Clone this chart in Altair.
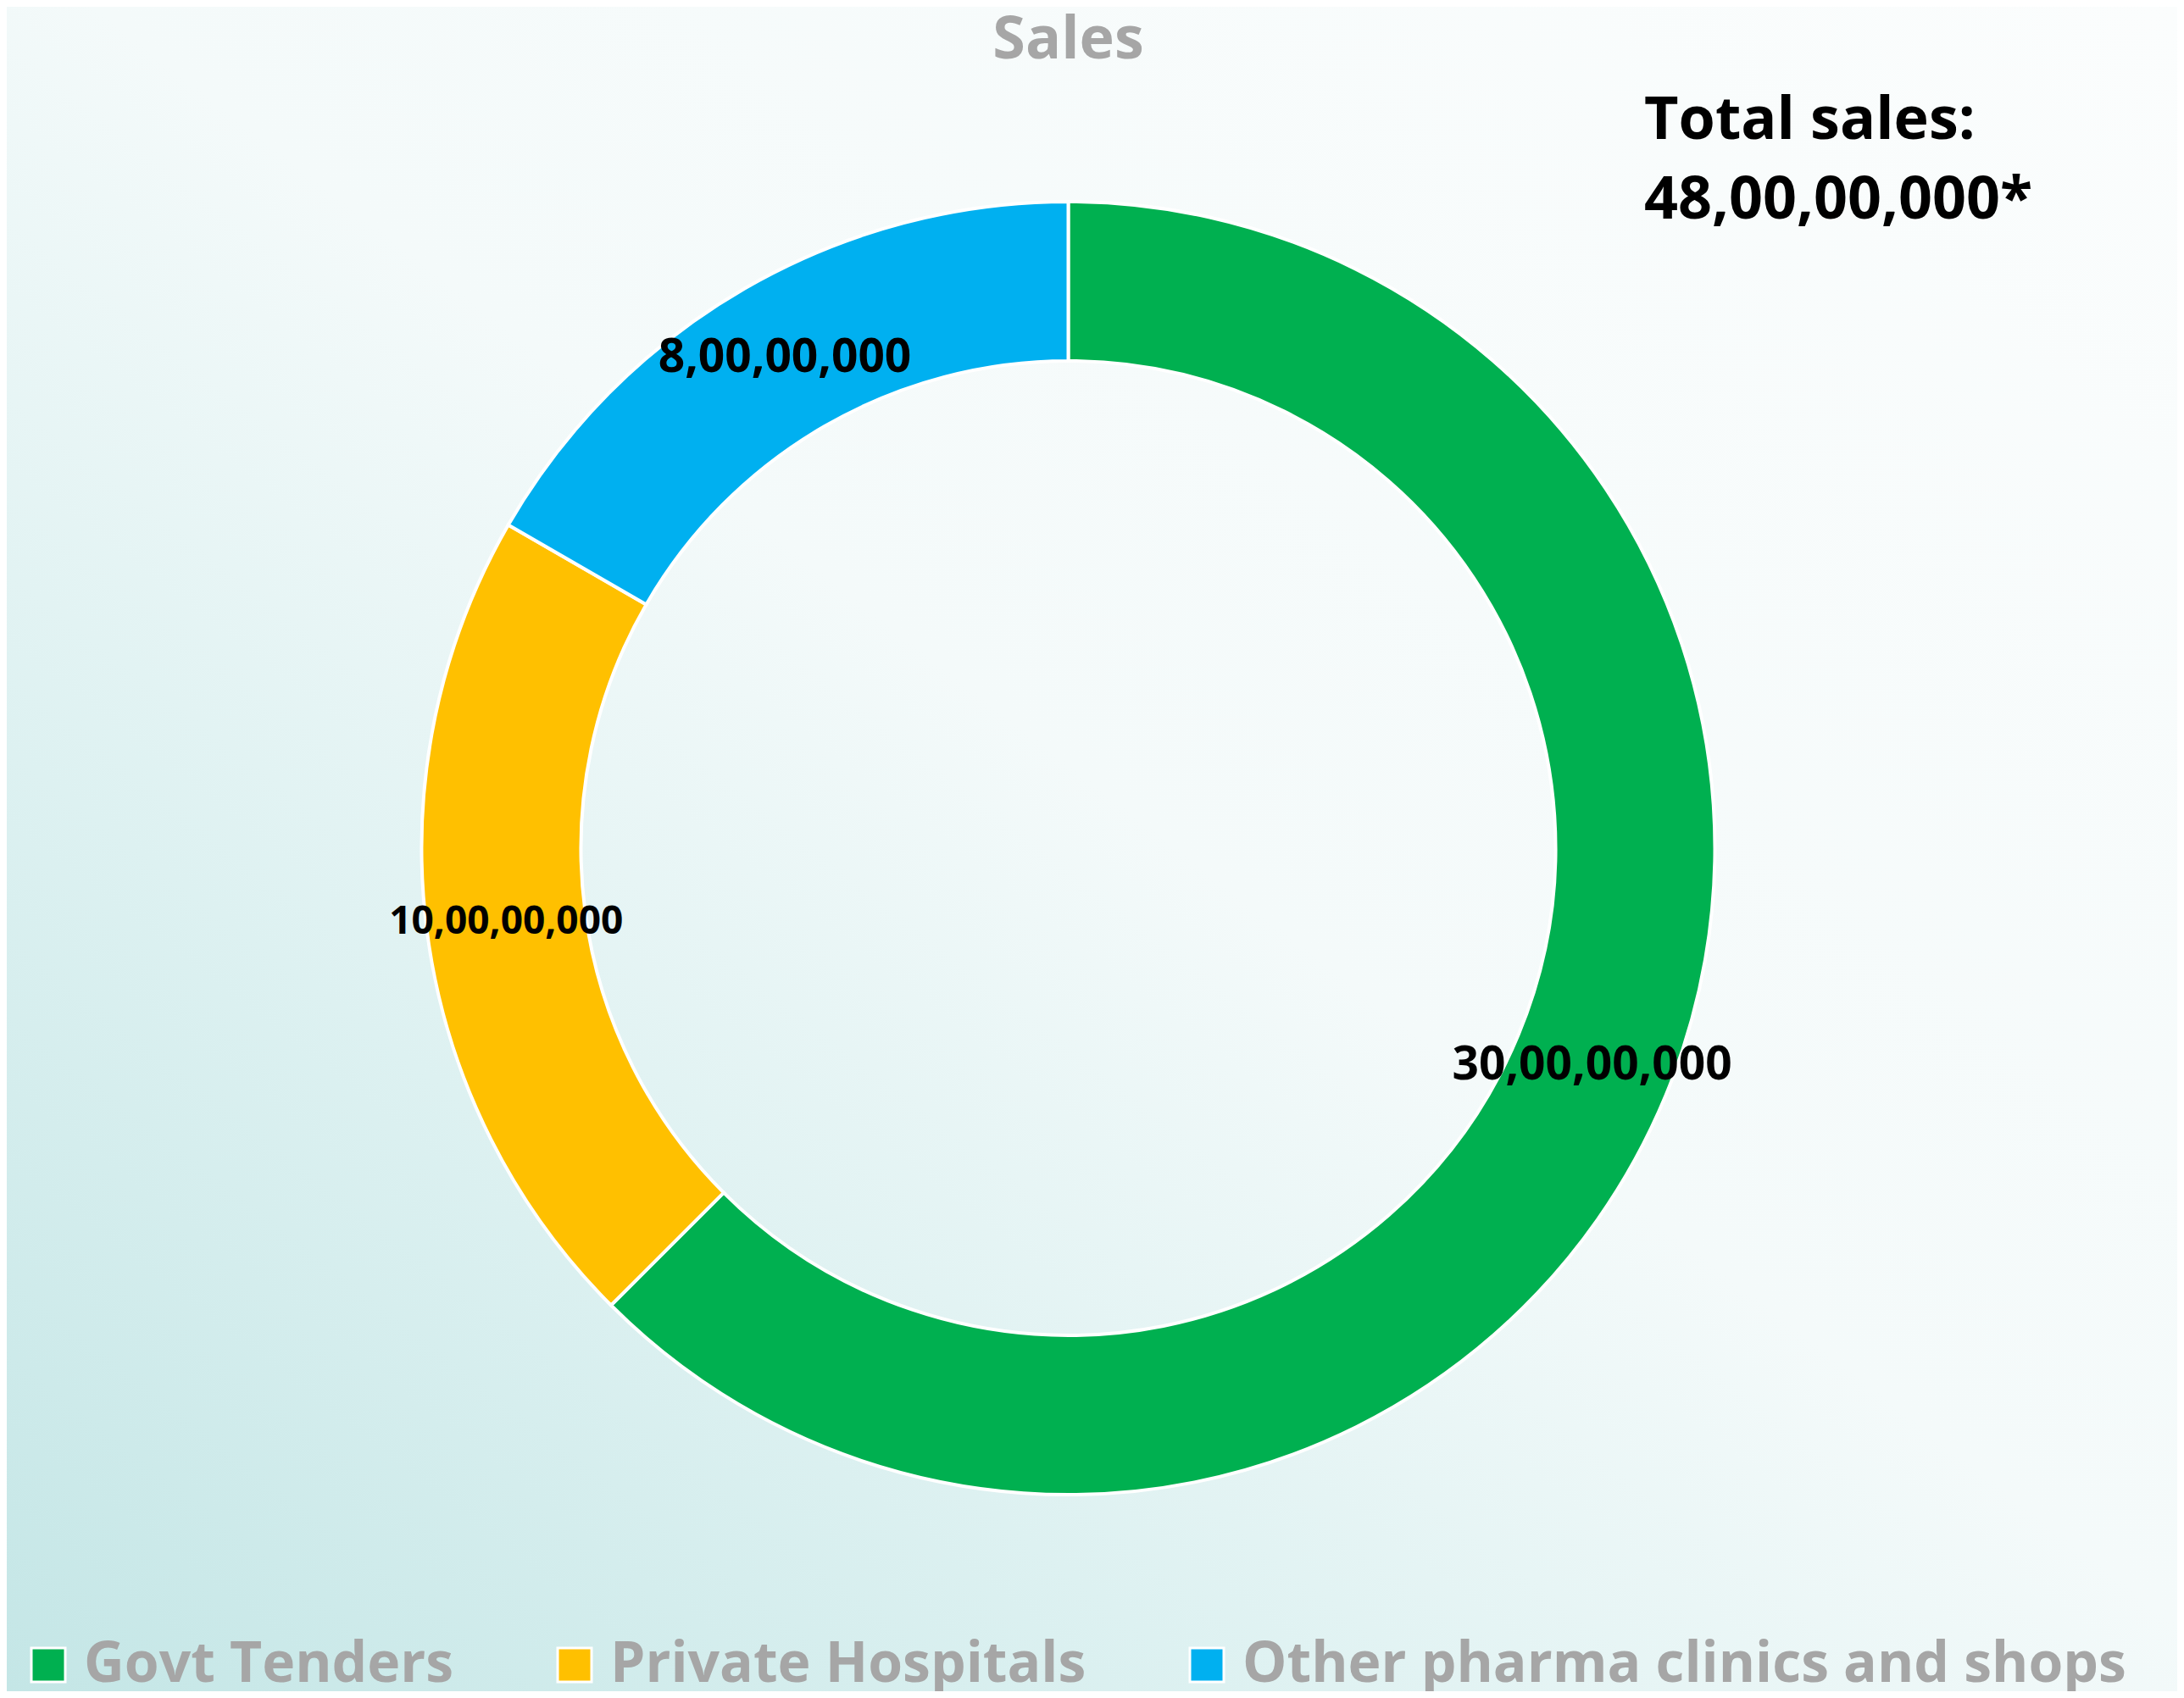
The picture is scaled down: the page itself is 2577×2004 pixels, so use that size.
import altair as alt
import pandas as pd

# ---- data ----
categories = ["Govt Tenders", "Private Hospitals", "Other pharma clinics and shops"]
sales = [300000000, 100000000, 80000000]
colors = ["#00B050", "#FFC000", "#00B0F0"]
chart_title = "Sales"


def inr(n):
    s = str(int(n))
    last3, rest = s[-3:], s[:-3]
    groups = []
    while len(rest) > 2:
        groups.insert(0, rest[-2:])
        rest = rest[:-2]
    if rest:
        groups.insert(0, rest)
    return ",".join(groups + [last3])


df = pd.DataFrame({
    "category": categories,
    "sales": sales,
    "order": list(range(len(categories))),
    "label": [inr(v) for v in sales],
})
total_text = ["Total sales:", inr(sum(sales)) + "*"]

FONT = "Open Sans"
PAD_TOP, PAD_RIGHT, PAD_BOTTOM, PAD_LEFT = 100, 56, 102, 0
W, H = 2505, 1786

bg = alt.Chart(pd.DataFrame({"bg": [0]})).mark_rect(
    color=alt.LinearGradient(
        gradient="linear",
        x1=0, y1=1, x2=1, y2=0,
        stops=[
            alt.GradientStop(color="#C4E6E6", offset=0),
            alt.GradientStop(color="#DDF1F1", offset=0.28),
            alt.GradientStop(color="#F4FAFA", offset=0.52),
            alt.GradientStop(color="#FBFDFD", offset=1),
        ],
    )
).encode(
    x=alt.value(-PAD_LEFT), x2=alt.value(W + PAD_RIGHT),
    y=alt.value(-PAD_TOP), y2=alt.value(H + PAD_BOTTOM),
)

base = alt.Chart(df).encode(
    theta=alt.Theta("sales:Q", stack=True),
    order=alt.Order("order:Q"),
)

arcs = base.mark_arc(radius=763, radius2=575, stroke="white", strokeWidth=4).encode(
    color=alt.Color(
        "category:N",
        scale=alt.Scale(domain=categories, range=colors),
        sort=categories,
        legend=alt.Legend(
            title=None,
            orient="none",
            legendX=16,
            legendY=1824,
            direction="horizontal",
            symbolType="square",
            symbolSize=1600,
            symbolStrokeColor="white",
            symbolStrokeWidth=3,
            symbolOpacity=1,
            labelFont=FONT,
            labelFontSize=66,
            labelFontWeight="bold",
            labelColor="#A6A6A6",
            labelOffset=9,
            labelLimit=3000,
            columnPadding=109,
            padding=0,
        ),
    )
)

labels = base.mark_text(
    radius=669, font=FONT, fontWeight="bold", color="black",
    align="center", baseline="middle",
).encode(
    text="label:N",
    size=alt.condition(alt.datum.category == "Private Hospitals", alt.value(46), alt.value(55)),
)

title = alt.Chart(pd.DataFrame({"t": [0]})).mark_text(
    text=chart_title, font=FONT, fontWeight="bold", fontSize=70, color="#A6A6A6",
    align="center", baseline="alphabetic",
).encode(x=alt.value(W / 2), y=alt.value(-39))

total = alt.Chart(pd.DataFrame({"t": [0]})).mark_text(
    text=total_text, font=FONT, fontWeight="bold", fontSize=70, color="black",
    align="left", baseline="alphabetic", lineHeight=94,
).encode(x=alt.value(1932), y=alt.value(56))

chart = alt.layer(bg, arcs, labels, title, total).properties(
    width=W,
    height=H,
    autosize=alt.AutoSizeParams(type="none"),
    padding={"top": PAD_TOP, "right": PAD_RIGHT, "bottom": PAD_BOTTOM, "left": PAD_LEFT},
).configure(background="#FBFDFD").configure_view(stroke=None)

chart.save("out.html", embed_options={"renderer": "svg", "actions": False})
